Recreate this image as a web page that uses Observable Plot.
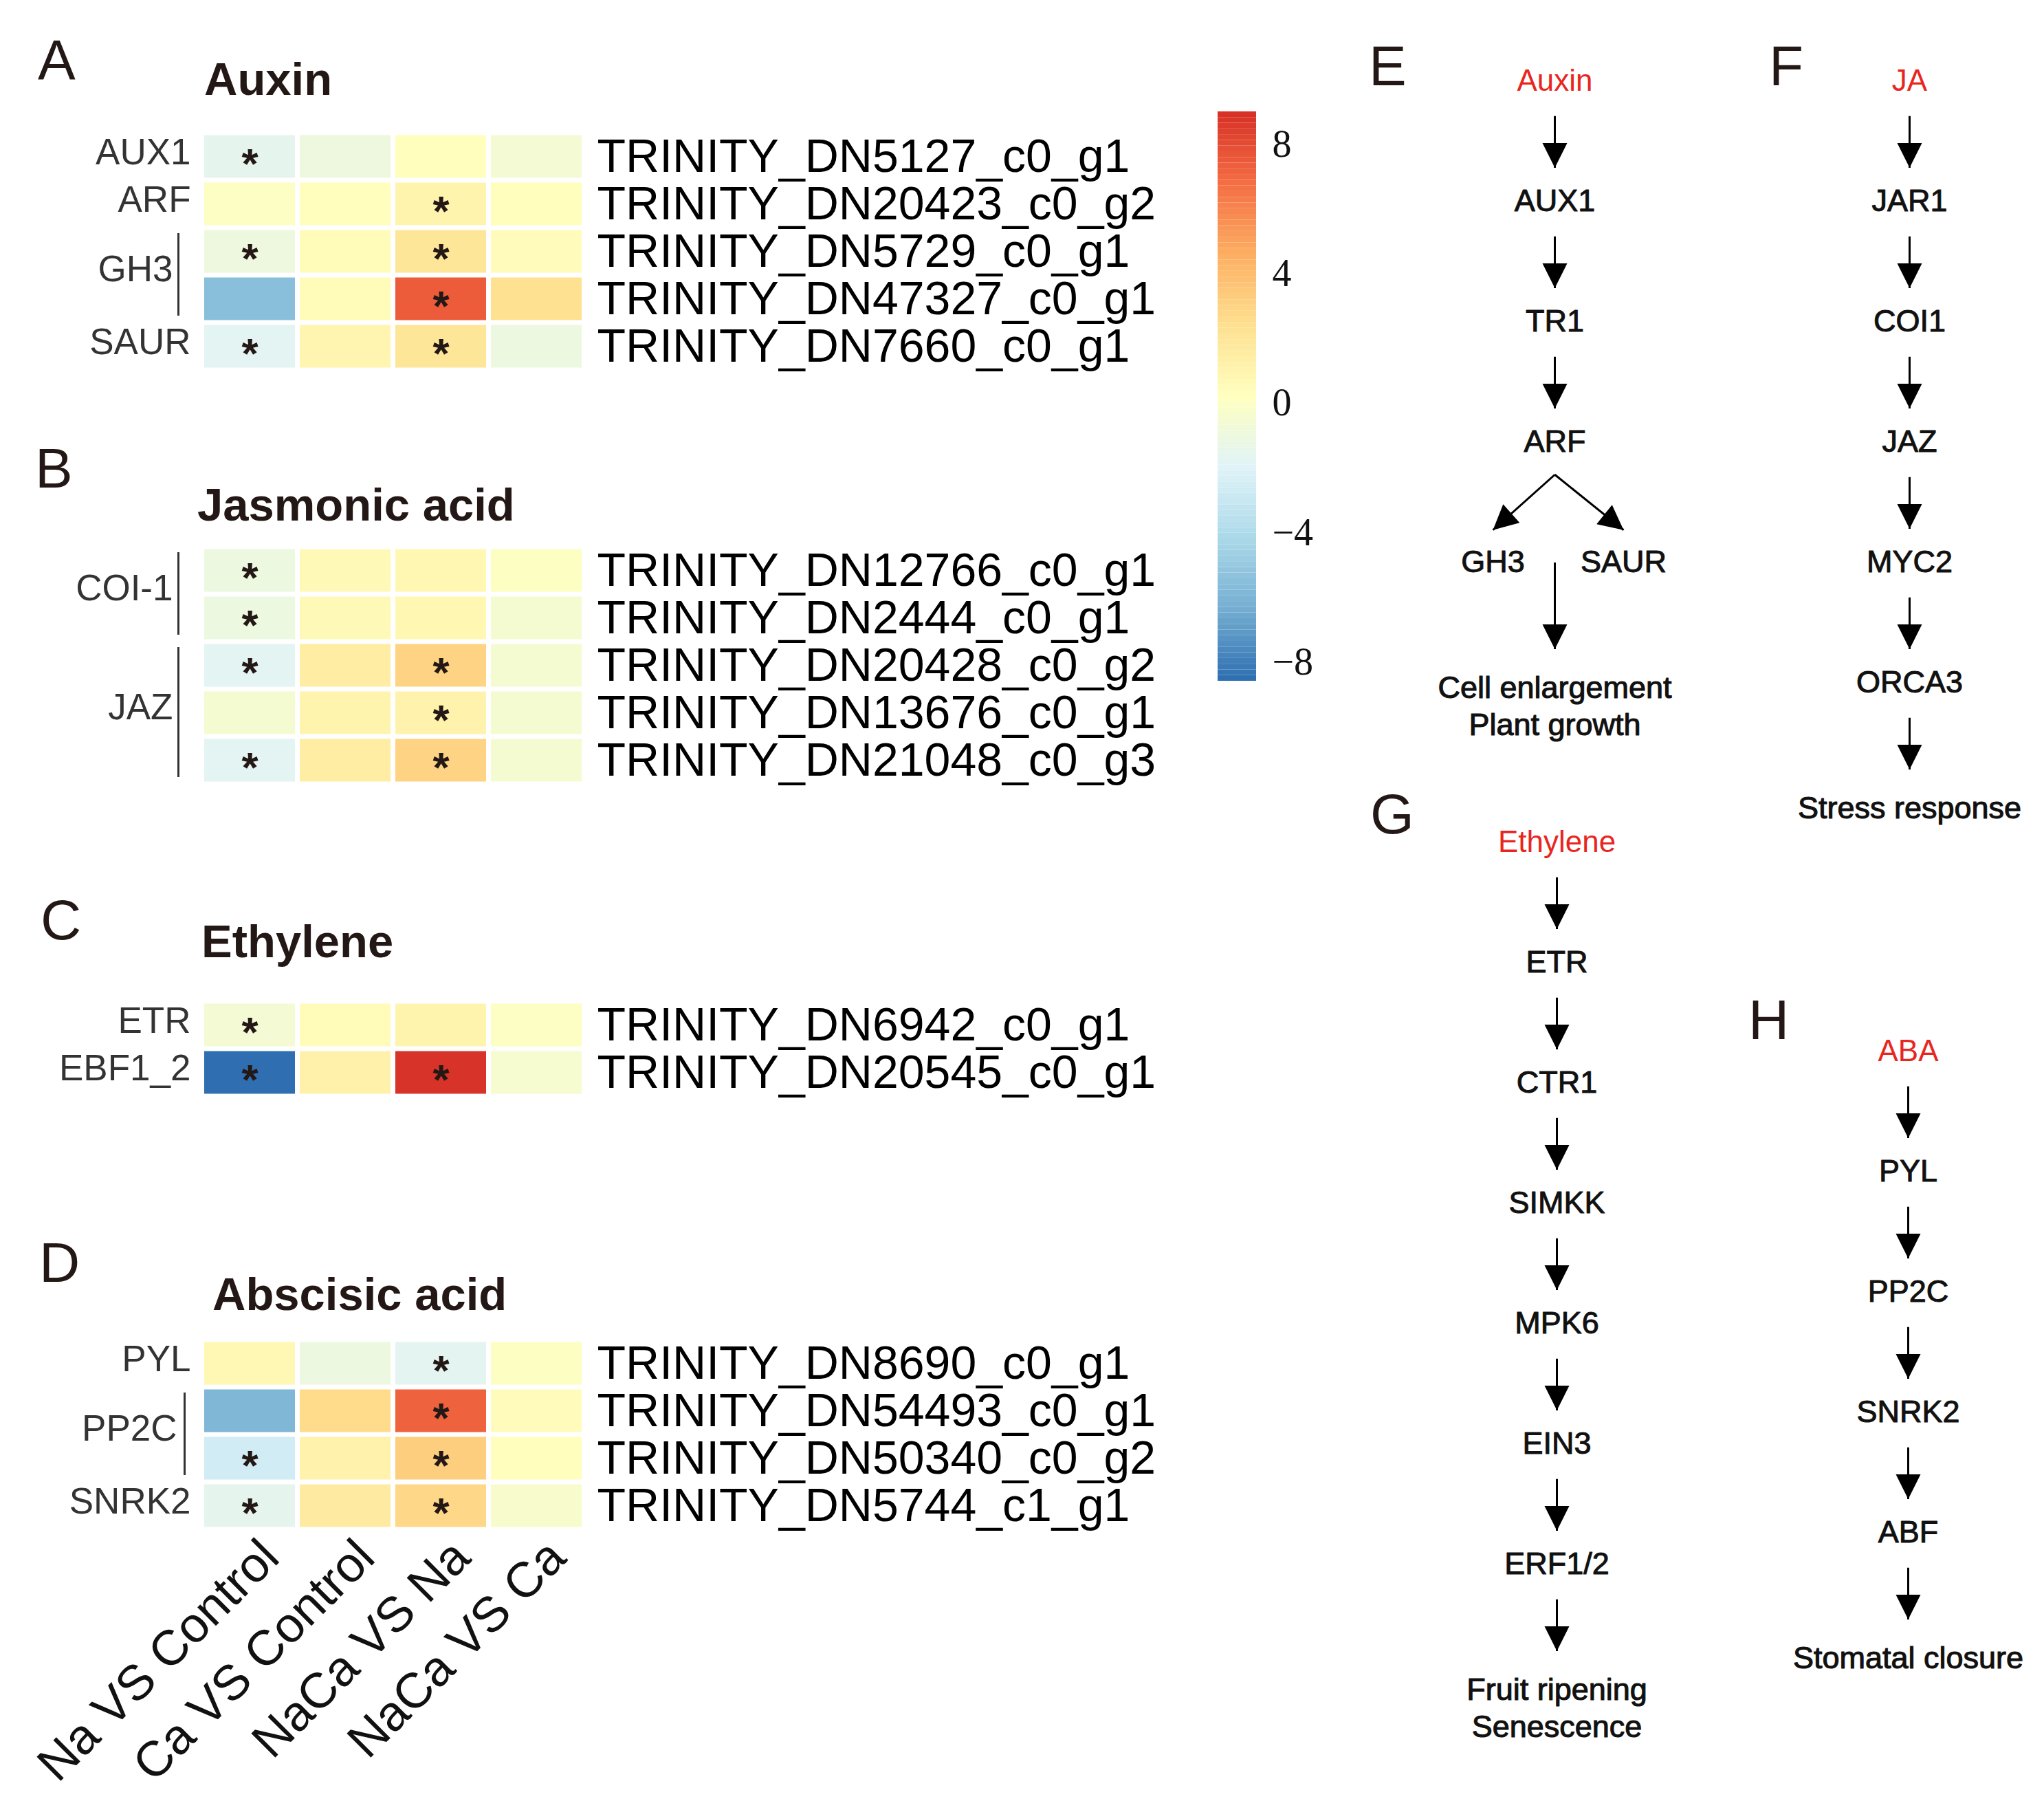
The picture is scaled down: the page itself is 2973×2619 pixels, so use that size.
<!DOCTYPE html>
<html><head><meta charset="utf-8">
<script src="https://cdn.jsdelivr.net/npm/d3@7"></script>
<script src="https://cdn.jsdelivr.net/npm/@observablehq/plot@0.6"></script>
<style>
body{margin:0;background:#fff;}
#root{position:relative;width:2973px;height:2619px;background:#fff;overflow:hidden;font-family:"Liberation Sans",Arial,sans-serif;}
.abs{position:absolute;}
.letter{font-size:82px;line-height:1;color:#231815;white-space:nowrap;}
.title{font-size:67px;font-weight:bold;line-height:1;color:#231815;white-space:nowrap;}
</style></head><body><div id="root"></div>
<script>
// ---------------- DATA ----------------
const comparisons = ["Na VS Control", "Ca VS Control", "NaCa VS Na", "NaCa VS Ca"];

const auxinGenes = ["TRINITY_DN5127_c0_g1", "TRINITY_DN20423_c0_g2", "TRINITY_DN5729_c0_g1", "TRINITY_DN47327_c0_g1", "TRINITY_DN7660_c0_g1"];
const auxinFamilies = ["AUX1", "ARF", "GH3", "GH3", "SAUR"];
const auxinValues = [
  [-1.6, -1.0, 0.3, -0.6],
  [0.0, 0.3, 1.0, 0.3],
  [-1.0, 0.5, 2.0, 0.4],
  [-5.5, 0.5, 7.4, 2.3],
  [-1.8, 0.9, 2.0, -1.1]
];
const auxinSignificant = [[1,0,0,0],[0,0,1,0],[1,0,1,0],[0,0,1,0],[1,0,1,0]];

const jaGenes = ["TRINITY_DN12766_c0_g1", "TRINITY_DN2444_c0_g1", "TRINITY_DN20428_c0_g2", "TRINITY_DN13676_c0_g1", "TRINITY_DN21048_c0_g3"];
const jaFamilies = ["COI-1", "COI-1", "JAZ", "JAZ", "JAZ"];
const jaValues = [
  [-1.1, 0.6, 0.8, 0.1],
  [-1.1, 0.6, 0.8, -0.5],
  [-1.8, 1.5, 3.0, -0.5],
  [-0.5, 1.0, 1.1, -0.5],
  [-1.8, 1.5, 3.0, -0.5]
];
const jaSignificant = [[1,0,0,0],[1,0,0,0],[1,0,1,0],[0,0,1,0],[1,0,1,0]];

const ethGenes = ["TRINITY_DN6942_c0_g1", "TRINITY_DN20545_c0_g1"];
const ethFamilies = ["ETR", "EBF1_2"];
const ethValues = [
  [-0.6, 0.5, 1.0, 0.0],
  [-8.5, 1.2, 8.9, -0.4]
];
const ethSignificant = [[1,0,0,0],[1,0,1,0]];

const abaGenes = ["TRINITY_DN8690_c0_g1", "TRINITY_DN54493_c0_g1", "TRINITY_DN50340_c0_g2", "TRINITY_DN5744_c1_g1"];
const abaFamilies = ["PYL", "PP2C", "PP2C", "SNRK2"];
const abaValues = [
  [0.7, -1.1, -1.7, 0.1],
  [-5.9, 2.6, 7.2, 0.4],
  [-2.6, 1.1, 3.2, 0.3],
  [-1.6, 1.6, 2.8, -0.3]
];
const abaSignificant = [[0,0,1,0],[0,0,1,0],[1,0,1,0],[1,0,1,0]];

const colorbarRange = [-8.58, 9.0];
const colorbarTicks = [-8, -4, 0, 4, 8];
const colorbarSteps = 100;
const colorStops = ["#2c6db0", "#74add1", "#abd9e9", "#e0f3f8", "#ffffbf", "#fee090", "#fdae61", "#f46d43", "#d73027"];

const auxinChain = ["Auxin", "AUX1", "TR1", "ARF"];
const auxinBranches = ["GH3", "SAUR"];
const auxinOutcome = "Cell enlargement\nPlant growth";
const jaChain = ["JA", "JAR1", "COI1", "JAZ", "MYC2", "ORCA3"];
const jaOutcome = "Stress response";
const ethChain = ["Ethylene", "ETR", "CTR1", "SIMKK", "MPK6", "EIN3", "ERF1/2"];
const ethOutcome = "Fruit ripening\nSenescence";
const abaChain = ["ABA", "PYL", "PP2C", "SNRK2", "ABF"];
const abaOutcome = "Stomatal closure";

// ---------------- LAYOUT / STYLE ----------------
const FONT = "Liberation Sans, Arial, sans-serif";
const SVG_STYLE = "background: transparent; overflow: visible; max-width: none; font-family: Liberation Sans, Arial, sans-serif;";
const root = document.getElementById("root");
function place(node, left, top) {
  const div = document.createElement("div");
  div.className = "abs";
  div.style.left = left + "px";
  div.style.top = top + "px";
  div.appendChild(node);
  root.appendChild(div);
}
function addText(cls, text, left, top) {
  const div = document.createElement("div");
  div.className = "abs " + cls;
  div.style.left = left + "px";
  div.style.top = top + "px";
  div.textContent = text;
  root.appendChild(div);
}

const colorOpts = {
  type: "linear",
  domain: colorbarRange,
  interpolate: d3.piecewise(d3.interpolateRgb, colorStops),
  clamp: true
};

const ROW = 69, COLW = 139, ML = 293.5, HM_W = 1740, MT = 20;

function heatmap(genes, families, values, significant, opts) {
  const n = genes.length;
  const MB = opts.columnLabels ? 420 : 20;
  const cells = [];
  genes.forEach((g, i) => comparisons.forEach((c, j) => cells.push({row: i, col: j, value: values[i][j], sig: significant[i][j]})));
  const groups = [];
  families.forEach((f, i) => {
    const last = groups[groups.length - 1];
    if (last && last.name === f) last.end = i; else groups.push({name: f, start: i, end: i});
  });
  const single = groups.filter(g => g.start === g.end);
  const multi = groups.filter(g => g.end > g.start);
  return Plot.plot({
    width: HM_W,
    height: n * ROW + MT + MB,
    marginLeft: ML,
    marginRight: HM_W - ML - 4 * COLW,
    marginTop: MT,
    marginBottom: MB,
    style: SVG_STYLE,
    x: {domain: [0, comparisons.length], axis: null},
    y: {domain: [0, n], reverse: true, axis: null},
    color: colorOpts,
    marks: [
      Plot.rect(cells, {x1: "col", x2: d => d.col + 1, y1: "row", y2: d => d.row + 1, fill: "value", inset: 3.5}),
      Plot.text(cells.filter(d => d.sig), {x: d => d.col + 0.5, y: d => d.row + 0.5, text: () => "*", fontSize: 62, fontWeight: "bold", fill: "#231815", dy: 11, fontFamily: FONT}),
      Plot.text(genes, {x: () => comparisons.length, y: (d, i) => i + 0.5, text: d => d, textAnchor: "start", dx: 18.5, fontSize: 68, fill: "#000", fontFamily: FONT}),
      Plot.text(single, {x: () => 0, y: g => g.start + 0.5, text: "name", textAnchor: "end", dx: -16.5, dy: -6, fontSize: 53, fill: "#333", fontFamily: FONT}),
      Plot.text(multi, {x: () => 0, y: g => (g.start + g.end + 1) / 2, text: "name", textAnchor: "end", dx: opts.groupDx, dy: -8, fontSize: 53, fill: "#333", fontFamily: FONT}),
      Plot.ruleX(multi, {x: () => 0, y1: "start", y2: g => g.end + 1, dx: opts.barDx, insetTop: 8, insetBottom: 10, stroke: "#333", strokeWidth: 3}),
      opts.columnLabels ? Plot.text(comparisons, {x: (d, j) => j + 0.5, y: () => n, text: d => d, rotate: -45, textAnchor: "end", lineAnchor: "top", dx: 10, dy: 8, fontSize: 72, fill: "#111", fontFamily: FONT}) : null
    ]
  });
}

// ---------------- HEATMAPS ----------------
place(heatmap(auxinGenes, auxinFamilies, auxinValues, auxinSignificant, {groupDx: -42.5, barDx: -34.5}), 0, 192.5 - MT);
place(heatmap(jaGenes, jaFamilies, jaValues, jaSignificant, {groupDx: -42.5, barDx: -34.5}), 0, 794.5 - MT);
place(heatmap(ethGenes, ethFamilies, ethValues, ethSignificant, {groupDx: -42.5, barDx: -34.5}), 0, 1455.5 - MT);
place(heatmap(abaGenes, abaFamilies, abaValues, abaSignificant, {groupDx: -36.5, barDx: -25.5, columnLabels: true}), 0, 1947.5 - MT);

// ---------------- COLOR BAR ----------------
{
  const [lo, hi] = colorbarRange;
  const step = (hi - lo) / colorbarSteps;
  const CB_H = 828, CB_W = 56, CB_MR = 200, CB_M = 20;
  const bar = Plot.plot({
    width: CB_W + CB_MR,
    height: CB_H + 2 * CB_M,
    marginLeft: 0, marginRight: CB_MR, marginTop: CB_M, marginBottom: CB_M,
    style: SVG_STYLE,
    x: {domain: [0, 1], axis: null},
    y: {domain: colorbarRange, label: null},
    color: colorOpts,
    marks: [
      Plot.rect(d3.range(colorbarSteps), {x1: () => 0, x2: () => 1, y1: i => lo + i * step, y2: i => lo + (i + 1) * step, fill: i => lo + (i + 0.5) * step}),
      Plot.axisY({anchor: "right", ticks: colorbarTicks, tickSize: 0, tickPadding: 23, fontSize: 56, fontFamily: "Liberation Serif, serif", fill: "#111", label: null})
    ]
  });
  place(bar, 1771, 162 - CB_M);
}

// ---------------- PATHWAYS ----------------
const UNIT_X = 200, LEVEL = 175, START = 0.29, TIP = 0.28, BRANCH_L = -0.45, BRANCH_R = 0.5;
function headSymbol(angle) {
  const w = 18, h = 36;
  return {
    draw(ctx) {
      const pts = [[0, 0], [-w, -h], [w, -h]].map(([x, y]) => [x * Math.cos(angle) - y * Math.sin(angle), x * Math.sin(angle) + y * Math.cos(angle)]);
      ctx.moveTo(pts[0][0], pts[0][1]);
      ctx.lineTo(pts[1][0], pts[1][1]);
      ctx.lineTo(pts[2][0], pts[2][1]);
      ctx.closePath();
    }
  };
}
function pathway(chain, outcome, branches) {
  const nodes = chain.map((label, i) => ({label, level: i, x: 0}));
  const edges = [];
  for (let i = 0; i < chain.length - 1; i++) edges.push({x1: 0, y1: i + START, x2: 0, y2: i + 1 - TIP});
  const last = chain.length - 1;
  let outLevel;
  if (branches) {
    const bl = last + 1;
    branches.forEach((b, k) => {
      const bx = k === 0 ? BRANCH_L : BRANCH_R;
      nodes.push({label: b, level: bl, x: bx});
      edges.push({x1: 0, y1: last + 0.27, x2: bx, y2: bl - 0.27});
    });
    edges.push({x1: 0, y1: bl, x2: 0, y2: bl + 1 - TIP});
    outLevel = bl + 1;
  } else {
    edges.push({x1: 0, y1: last + START, x2: 0, y2: last + 1 - TIP});
    outLevel = last + 1;
  }
  const levels = outLevel + 1;
  const outcomeNode = [{label: outcome, level: outLevel, x: 0}];
  const heads = edges.map(e => {
    const ang = Math.atan2((e.y2 - e.y1) * LEVEL, (e.x2 - e.x1) * UNIT_X) - Math.PI / 2;
    return Plot.dot([e], {x: "x2", y: "y2", symbol: headSymbol(ang), r: 10, fill: "black", stroke: "none"});
  });
  return Plot.plot({
    width: 2 * UNIT_X,
    height: levels * LEVEL,
    margin: 0,
    style: SVG_STYLE,
    x: {domain: [-1, 1], axis: null},
    y: {domain: [-0.5, levels - 0.5], reverse: true, axis: null},
    marks: [
      Plot.link(edges, {x1: "x1", y1: "y1", x2: "x2", y2: "y2", stroke: "black", strokeWidth: 3}),
      ...heads,
      Plot.text(nodes.slice(0, 1), {x: "x", y: "level", text: "label", fontSize: 44, fill: "#e8261f", fontFamily: FONT}),
      Plot.text(nodes.slice(1), {x: "x", y: "level", text: "label", fontSize: 45, fill: "#111", stroke: "#111", strokeWidth: 1, fontFamily: FONT}),
      Plot.text(outcomeNode, {x: "x", y: "level", text: "label", fontSize: 45, lineAnchor: "top", lineHeight: 1.2, dy: -16, fill: "#111", stroke: "#111", strokeWidth: 1.1, fontFamily: FONT})
    ]
  });
}
place(pathway(auxinChain, auxinOutcome, auxinBranches), 2261 - UNIT_X, 117 - LEVEL / 2);
place(pathway(jaChain, jaOutcome), 2777 - UNIT_X, 117 - LEVEL / 2);
place(pathway(ethChain, ethOutcome), 2264 - UNIT_X, 1224 - LEVEL / 2);
place(pathway(abaChain, abaOutcome), 2775 - UNIT_X, 1528 - LEVEL / 2);

// ---------------- LETTERS & TITLES ----------------
const LB = 0.8465 * 82, TB = 0.8465 * 67;
addText("letter", "A", 55, 115 - LB);
addText("letter", "B", 51, 709 - LB);
addText("letter", "C", 59, 1366 - LB);
addText("letter", "D", 57, 1864 - LB);
addText("letter", "E", 1991, 124 - LB);
addText("letter", "F", 2573, 124 - LB);
addText("letter", "G", 1993, 1212 - LB);
addText("letter", "H", 2543, 1511 - LB);
addText("title", "Auxin", 297, 138 - TB);
addText("title", "Jasmonic acid", 287, 757 - TB);
addText("title", "Ethylene", 293, 1392 - TB);
addText("title", "Abscisic acid", 309, 1905 - TB);
</script></body></html>
